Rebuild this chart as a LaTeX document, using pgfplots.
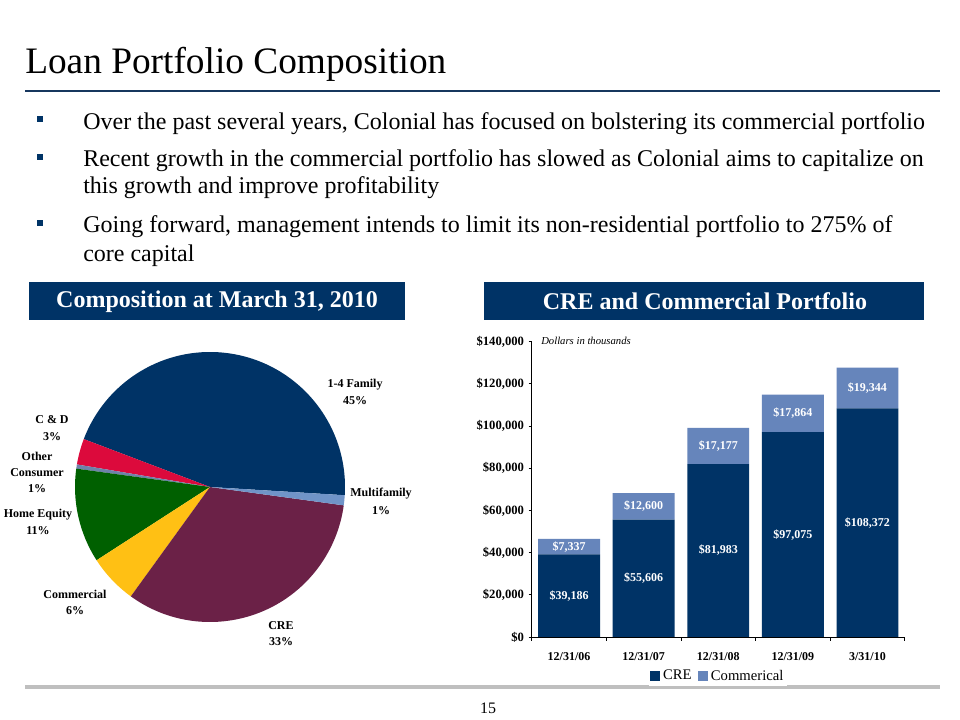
\documentclass[border=0pt]{standalone}
\usepackage{fontspec}
\setmainfont{Liberation Serif}
\usepackage{pgfplots}
\usepackage{pgfplotstable}
\pgfplotsset{compat=1.18}

\definecolor{navy}{RGB}{0,51,102}
\definecolor{lblue}{RGB}{102,133,187}
\definecolor{cdred}{RGB}{220,10,60}
\definecolor{heg}{RGB}{0,96,0}
\definecolor{gold}{RGB}{255,192,20}
\definecolor{maroon}{RGB}{107,33,71}
\definecolor{ocons}{RGB}{110,130,170}
\definecolor{mfam}{RGB}{112,148,200}
\definecolor{rulenavy}{RGB}{23,55,94}
\definecolor{greybar}{RGB}{191,191,191}

\pgfplotstableread{
x cre com
0 39186 7337
1 55606 12600
2 81983 17177
3 97075 17864
4 108372 19344
}\bardata

\newcommand{\fs}[1]{\fontsize{#1}{#1}\selectfont}

\begin{document}
\begin{tikzpicture}
% ---------- pixel-coordinate scope ----------
\begin{scope}[x=0.75pt,y=-0.75pt,yshift=540pt]
\fill[white] (0,0) rectangle (960,720);
% title
\node[anchor=base west,inner sep=0pt] at (25,74) {\fs{28}Loan Portfolio Composition};
\fill[rulenavy] (25,90) rectangle (940,92.5);
% bullets
\foreach \yy in {116,154,220} {\fill[navy] (37,\yy) rectangle (43,\yy+6);}
\node[anchor=base west,inner sep=0pt] at (83,130) {\fs{18}Over the past several years, Colonial has focused on bolstering its commercial portfolio};
\node[anchor=base west,inner sep=0pt] at (83,166.5) {\fs{18}Recent growth in the commercial portfolio has slowed as Colonial aims to capitalize on};
\node[anchor=base west,inner sep=0pt] at (83,194) {\fs{18}this growth and improve profitability};
\node[anchor=base west,inner sep=0pt] at (83,233) {\fs{18}Going forward, management intends to limit its non-residential portfolio to 275\% of};
\node[anchor=base west,inner sep=0pt] at (83,261.5) {\fs{18}core capital};
% header boxes
\fill[navy] (29,282) rectangle (405,320.5);
\node[text=white] at (217,301.5) {\fs{18}\bfseries Composition at March 31, 2010};
\fill[navy] (484,282) rectangle (924,320);
\node[text=white] at (705,301.5) {\fs{18}\bfseries CRE and Commercial Portfolio};
% pie labels
\begin{scope}[every node/.style={font=\fs{9}\bfseries,align=center,inner sep=0pt}]
\node at (355,385) {1-4 Family};
\node at (355,401) {45\%};
\node at (52,420) {C \& D};
\node at (52,437) {3\%};
\node at (37,456) {Other};
\node at (37,473) {Consumer};
\node at (37,489) {1\%};
\node at (38,515) {Home Equity};
\node at (38,531) {11\%};
\node at (75,594) {Commercial};
\node at (75,611) {6\%};
\node at (281,626) {CRE};
\node at (281,642) {33\%};
\node at (381,494) {Multifamily};
\node at (381,511) {1\%};
\end{scope}
% dollars note
\node[anchor=west,inner sep=0pt] at (541,341) {\fs{8}\itshape Dollars in thousands};
% bottom bar and page number
\fill[greybar] (25,685.5) rectangle (940,689.5);
\node[anchor=base,inner sep=0pt] at (488,714) {\fs{12}15};
\end{scope}

% ---------- pie ----------
\begin{axis}[at={(56.25pt,73.5pt)},anchor=south west,scale only axis,
  width=202.5pt,height=202.5pt,xmin=-1,xmax=1,ymin=-1,ymax=1,hide axis,clip=false]
% shares (percent): 1-4 Family 45.2, C&D 3.1, Other Consumer 0.5, Home Equity 11.3,
% Commercial 5.9, CRE 32.8, Multifamily 1.2 ; start angle -3.5
\fill[navy]   (axis cs:0,0) -- (axis cs:{cos(-3.5)},{sin(-3.5)}) arc[start angle=-3.5,end angle=159.22,radius=101.25pt] -- cycle;
\fill[cdred]  (axis cs:0,0) -- (axis cs:{cos(159.22)},{sin(159.22)}) arc[start angle=159.22,end angle=170.38,radius=101.25pt] -- cycle;
\fill[ocons]  (axis cs:0,0) -- (axis cs:{cos(170.38)},{sin(170.38)}) arc[start angle=170.38,end angle=172.18,radius=101.25pt] -- cycle;
\fill[heg]    (axis cs:0,0) -- (axis cs:{cos(172.18)},{sin(172.18)}) arc[start angle=172.18,end angle=212.86,radius=101.25pt] -- cycle;
\fill[gold]   (axis cs:0,0) -- (axis cs:{cos(212.86)},{sin(212.86)}) arc[start angle=212.86,end angle=234.10,radius=101.25pt] -- cycle;
\fill[maroon] (axis cs:0,0) -- (axis cs:{cos(234.10)},{sin(234.10)}) arc[start angle=234.10,end angle=352.18,radius=101.25pt] -- cycle;
\fill[mfam]   (axis cs:0,0) -- (axis cs:{cos(352.18)},{sin(352.18)}) arc[start angle=352.18,end angle=356.50,radius=101.25pt] -- cycle;
\end{axis}

% ---------- bars ----------
\begin{axis}[at={(398.8pt,62.25pt)},anchor=south west,scale only axis,
  width=279.8pt,height=221.5pt,
  xmin=-0.5,xmax=4.5,ymin=0,ymax=140000,
  ybar stacked,bar width=0.83,
  axis x line*=bottom,axis y line*=left,
  axis line style={black,line width=0.6pt,-},
  xtick={0,1,2,3,4},
  xticklabels={12/31/06,12/31/07,12/31/08,12/31/09,3/31/10},
  major x tick style={draw=none},
  minor xtick={-0.5,0.5,1.5,2.5,3.5,4.5},
  minor tick length=3pt,major tick length=2.25pt,
  tick align=outside,
  tick style={black,line width=0.6pt},
  ytick={0,20000,40000,60000,80000,100000,120000,140000},
  scaled y ticks=false,
  /pgf/number format/fixed,
  /pgf/number format/precision=0,
  /pgf/number format/1000 sep={,},
  /pgf/number format/assume math mode=true,
  yticklabel={\$\pgfmathprintnumber{\tick}},
  yticklabel style={font=\fs{9.5}\bfseries},
  xticklabel style={font=\fs{9}\bfseries,yshift=-6pt},
  legend style={at={(0.5,-0.132)},anchor=center,draw=none,legend columns=2,
    font=\fs{11},inner sep=1pt,
    /tikz/every even column/.append style={column sep=3pt}},
  legend image code/.code={\fill[#1] (0pt,-3.8pt) rectangle (7.5pt,3.8pt);},
]
\addplot[fill=navy,draw=none] table[x=x,y=cre] {\bardata};
\addplot[fill=lblue,draw=none] table[x=x,y=com] {\bardata};
\legend{CRE,Commerical}
\end{axis}

% ---------- bar labels ----------
\begin{axis}[at={(398.8pt,62.25pt)},anchor=south west,scale only axis,
  width=279.8pt,height=221.5pt,
  xmin=-0.5,xmax=4.5,ymin=0,ymax=140000,hide axis,clip=false,
  nodes near coords={\$\pgfmathprintnumber[fixed,precision=0,1000 sep={,},assume math mode=true]{\pgfplotspointmeta}},
  every node near coord/.append style={anchor=center,text=white,font=\fs{9}\bfseries,inner sep=0pt},
]
\addplot[draw=none,mark=none,point meta=\thisrow{cre}] table[x=x,y expr=\thisrow{cre}/2] {\bardata};
\addplot[draw=none,mark=none,point meta=\thisrow{com}] table[x=x,y expr=\thisrow{cre}+\thisrow{com}/2] {\bardata};
\end{axis}

\pgfresetboundingbox
\path[use as bounding box] (0,0) rectangle (720pt,540pt);
\end{tikzpicture}
\end{document}
